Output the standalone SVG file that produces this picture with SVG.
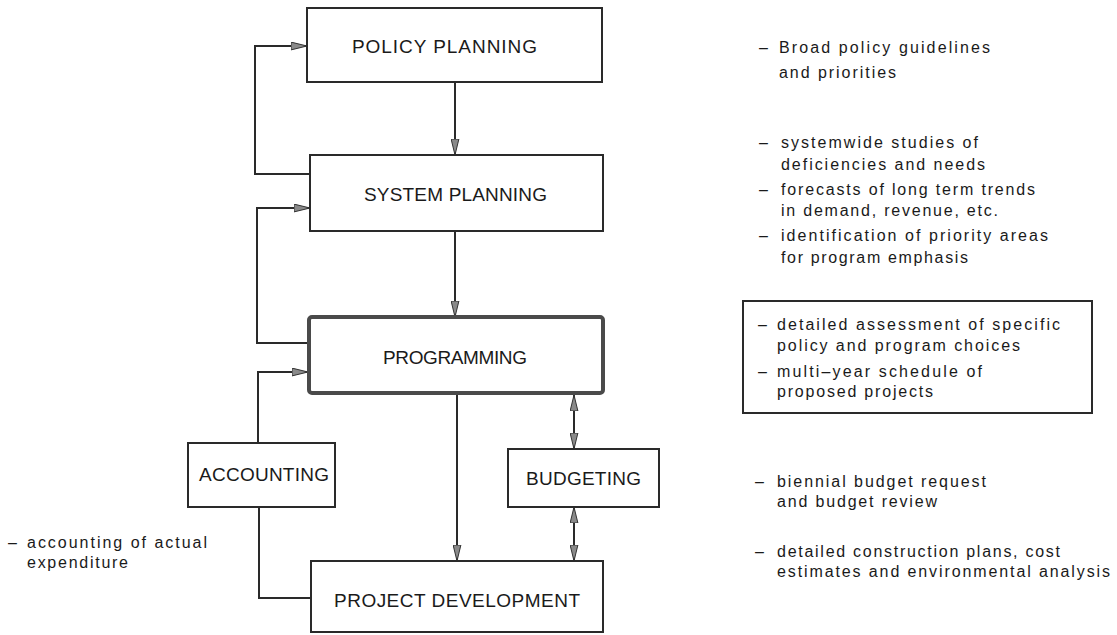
<svg xmlns="http://www.w3.org/2000/svg" width="1117" height="635" viewBox="0 0 1117 635">
<style>
.box{fill:#fff;stroke:#2a2a2a;stroke-width:2}
.thick{fill:#fff;stroke:#4a4a4a;stroke-width:4}
.lbl{font-family:"Liberation Sans",Arial,sans-serif;font-size:19px;fill:#1a1a1a}
.note{font-family:"Liberation Sans",Arial,sans-serif;font-size:16px;fill:#1a1a1a}
.con{fill:none;stroke:#2a2a2a;stroke-width:2}
</style>
<defs>
<marker id="ah" viewBox="0 0 16 9" refX="16" refY="4.5" markerWidth="16" markerHeight="9" markerUnits="userSpaceOnUse" orient="auto-start-reverse">
<path d="M0,0.6 L16,4.5 L0,8.4 z" fill="#8a8a8a" stroke="#333" stroke-width="1"/>
</marker>
</defs>
<rect width="1117" height="635" fill="#fff"/>
<g id="connectors">
<path class="con" d="M455,82 V155" marker-end="url(#ah)"/>
<path class="con" d="M455,231 V317" marker-end="url(#ah)"/>
<path class="con" d="M310,174 H255 V46 H307" marker-end="url(#ah)"/>
<path class="con" d="M309,343 H257 V208 H310" marker-end="url(#ah)"/>
<path class="con" d="M258,443 V372 H308" marker-end="url(#ah)"/>
<path class="con" d="M259,507 V598 H311"/>
<path class="con" d="M457,394 V561" marker-end="url(#ah)"/>
<path class="con" d="M574,395 V449" marker-start="url(#ah)" marker-end="url(#ah)"/>
<path class="con" d="M574,507 V561" marker-start="url(#ah)" marker-end="url(#ah)"/>
</g>
<g id="policy-planning">
<rect class="box" x="307" y="8" width="295" height="74"/>
<text class="lbl" x="352" y="53" textLength="185" lengthAdjust="spacing">POLICY PLANNING</text>
</g>
<g id="system-planning">
<rect class="box" x="310" y="155" width="293" height="76"/>
<text class="lbl" x="364" y="201" textLength="183" lengthAdjust="spacing">SYSTEM PLANNING</text>
</g>
<g id="programming">
<rect class="thick" x="309" y="317" width="294" height="76" rx="3"/>
<text class="lbl" x="383" y="364" textLength="144" lengthAdjust="spacing">PROGRAMMING</text>
</g>
<g id="accounting">
<rect class="box" x="188" y="443" width="147" height="64"/>
<text class="lbl" x="199" y="481" textLength="130" lengthAdjust="spacing">ACCOUNTING</text>
</g>
<g id="budgeting">
<rect class="box" x="508" y="449" width="151" height="58"/>
<text class="lbl" x="526" y="485" textLength="115" lengthAdjust="spacing">BUDGETING</text>
</g>
<g id="project-development">
<rect class="box" x="311" y="561" width="292" height="71"/>
<text class="lbl" x="334" y="607" textLength="246" lengthAdjust="spacing">PROJECT DEVELOPMENT</text>
</g>
<g id="notes-policy">
<text class="note" x="759" y="53">–</text>
<text class="note" x="779" y="53" textLength="211" lengthAdjust="spacing">Broad policy guidelines</text>
<text class="note" x="779" y="78" textLength="117" lengthAdjust="spacing">and priorities</text>
</g>
<g id="notes-system">
<text class="note" x="759" y="148">–</text>
<text class="note" x="781" y="148" textLength="197" lengthAdjust="spacing">systemwide studies of</text>
<text class="note" x="781" y="170" textLength="204" lengthAdjust="spacing">deficiencies and needs</text>
<text class="note" x="759" y="195">–</text>
<text class="note" x="781" y="195" textLength="254" lengthAdjust="spacing">forecasts of long term trends</text>
<text class="note" x="781" y="216" textLength="217" lengthAdjust="spacing">in demand, revenue, etc.</text>
<text class="note" x="759" y="241">–</text>
<text class="note" x="781" y="241" textLength="267" lengthAdjust="spacing">identification of priority areas</text>
<text class="note" x="781" y="263" textLength="187" lengthAdjust="spacing">for program emphasis</text>
</g>
<g id="notes-programming">
<rect class="box" x="743" y="301" width="349" height="112"/>
<text class="note" x="758" y="330">–</text>
<text class="note" x="777" y="330" textLength="283" lengthAdjust="spacing">detailed assessment of specific</text>
<text class="note" x="777" y="351" textLength="243" lengthAdjust="spacing">policy and program choices</text>
<text class="note" x="758" y="377">–</text>
<text class="note" x="777" y="377" textLength="205" lengthAdjust="spacing">multi–year schedule of</text>
<text class="note" x="777" y="397" textLength="156" lengthAdjust="spacing">proposed projects</text>
</g>
<g id="notes-budgeting">
<text class="note" x="755" y="487">–</text>
<text class="note" x="777" y="487" textLength="209" lengthAdjust="spacing">biennial budget request</text>
<text class="note" x="777" y="507" textLength="160" lengthAdjust="spacing">and budget review</text>
</g>
<g id="notes-project">
<text class="note" x="755" y="557">–</text>
<text class="note" x="777" y="557" textLength="283" lengthAdjust="spacing">detailed construction plans, cost</text>
<text class="note" x="777" y="577" textLength="333" lengthAdjust="spacing">estimates and environmental analysis</text>
</g>
<g id="notes-accounting">
<text class="note" x="8" y="548">–</text>
<text class="note" x="27" y="548" textLength="180" lengthAdjust="spacing">accounting of actual</text>
<text class="note" x="27" y="568" textLength="101" lengthAdjust="spacing">expenditure</text>
</g>
</svg>
